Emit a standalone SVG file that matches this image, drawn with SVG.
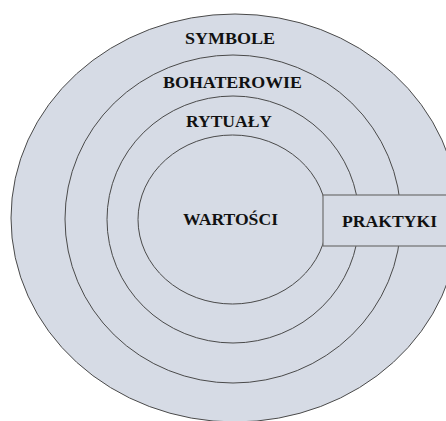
<svg xmlns="http://www.w3.org/2000/svg" width="446" height="421" viewBox="0 0 446 421">
  <style>
    .ring { fill: #d6dbe5; stroke: #4a4a4a; stroke-width: 1; }
    .box { fill: #d6dbe5; stroke: #6e6e6e; stroke-width: 1.2; }
    .lbl { font-family: "Liberation Serif", "Times New Roman", serif; font-weight: bold; font-size: 16px; fill: #111; text-anchor: middle; }
  </style>
  <rect x="0" y="0" width="446" height="421" fill="#ffffff"/>
  <g id="symbole">
    <ellipse class="ring" cx="235" cy="218" rx="224" ry="204"/>
    <text class="lbl" x="230" y="44" textLength="90" lengthAdjust="spacingAndGlyphs">SYMBOLE</text>
  </g>
  <g id="bohaterowie">
    <ellipse class="ring" cx="233" cy="219" rx="168" ry="164"/>
    <text class="lbl" x="232.5" y="88" textLength="139" lengthAdjust="spacingAndGlyphs">BOHATEROWIE</text>
  </g>
  <g id="rytualy">
    <ellipse class="ring" cx="233" cy="219.5" rx="126" ry="123.5"/>
    <text class="lbl" x="229" y="127" textLength="86" lengthAdjust="spacingAndGlyphs">RYTUAŁY</text>
  </g>
  <g id="wartosci">
    <ellipse class="ring" cx="232.5" cy="219.5" rx="94.5" ry="84.5"/>
    <text class="lbl" x="230.5" y="225" textLength="95" lengthAdjust="spacingAndGlyphs">WARTOŚCI</text>
  </g>
  <g id="praktyki">
    <rect class="box" x="323" y="195" width="130" height="51"/>
    <text class="lbl" x="389.5" y="227" textLength="95" lengthAdjust="spacingAndGlyphs">PRAKTYKI</text>
  </g>
  <g id="connectors"></g>
</svg>
